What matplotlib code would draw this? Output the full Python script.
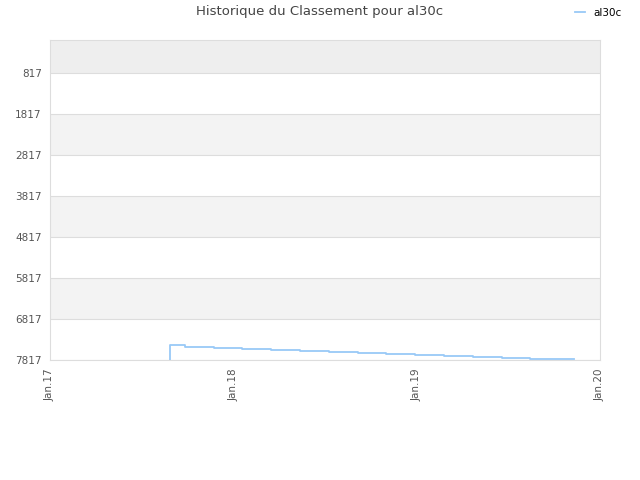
import numpy as np
import pandas as pd
import matplotlib
matplotlib.use('Agg')
import matplotlib.pyplot as plt
import matplotlib.dates as mdates

# ── Data ──────────────────────────────────────────────────────────────────────
dates = pd.to_datetime([
    '2017-08-28', '2017-08-28', '2017-09-27', '2017-11-23', '2018-01-19',
    '2018-03-17', '2018-05-14', '2018-07-10', '2018-09-06', '2018-11-01',
    '2018-12-29', '2019-02-24', '2019-04-23', '2019-06-20', '2019-08-14',
    '2019-10-11', '2019-11-10',
])
ranks = [7817, 7458, 7493, 7517, 7541, 7566, 7590, 7615, 7639, 7663,
         7688, 7712, 7737, 7761, 7785, 7800, 7800]

ytick_vals = [817, 1817, 2817, 3817, 4817, 5817, 6817, 7817]
xtick_dates = pd.to_datetime(['2017-01-01', '2018-01-01', '2019-01-01', '2020-01-01'])
xtick_labels = ['Jan.17', 'Jan.18', 'Jan.19', 'Jan.20']
y_top = 12

# ── Plot ──────────────────────────────────────────────────────────────────────
fig = plt.figure(figsize=(6.4, 4.8), dpi=100)
ax = fig.add_axes([50 / 640, 1 - 360 / 480, 550 / 640, 320 / 480])

# alternating bands between the ticks
bounds = [y_top] + ytick_vals
for k in range(len(bounds) - 1):
    if k == 0:
        col = '#eeeeee'
    elif k % 2 == 0:
        col = '#f3f3f3'
    else:
        col = '#ffffff'
    ax.axhspan(bounds[k], bounds[k + 1], color=col, zorder=0, lw=0)
for v in ytick_vals:
    ax.axhline(v, color='#dddddd', lw=0.8, zorder=1)

ax.plot(dates, ranks, drawstyle='steps-post', color='#99c9f7', lw=1.3,
        label='al30c', zorder=3)

ax.set_xlim(xtick_dates[0], xtick_dates[-1])
ax.set_ylim(7817, y_top)
ax.set_yticks(ytick_vals)
ax.set_yticklabels([str(v) for v in ytick_vals])
ax.set_xticks(xtick_dates)
ax.set_xticklabels(xtick_labels, rotation=90)
ax.tick_params(axis='both', length=0, labelsize=7.5, labelcolor='#555555', pad=6)

for s in ax.spines.values():
    s.set_color('#dddddd')
    s.set_linewidth(0.8)

fig.text(0.5, 1 - 12 / 480, 'Historique du Classement pour al30c',
         ha='center', va='center', fontsize=9.5, color='#444444')
fig.legend(loc='upper right', bbox_to_anchor=(0.986, 1.003), frameon=False,
           fontsize=7.5, handlelength=1.0, handletextpad=0.8)

plt.savefig('out.png', dpi=100)
plt.close()
